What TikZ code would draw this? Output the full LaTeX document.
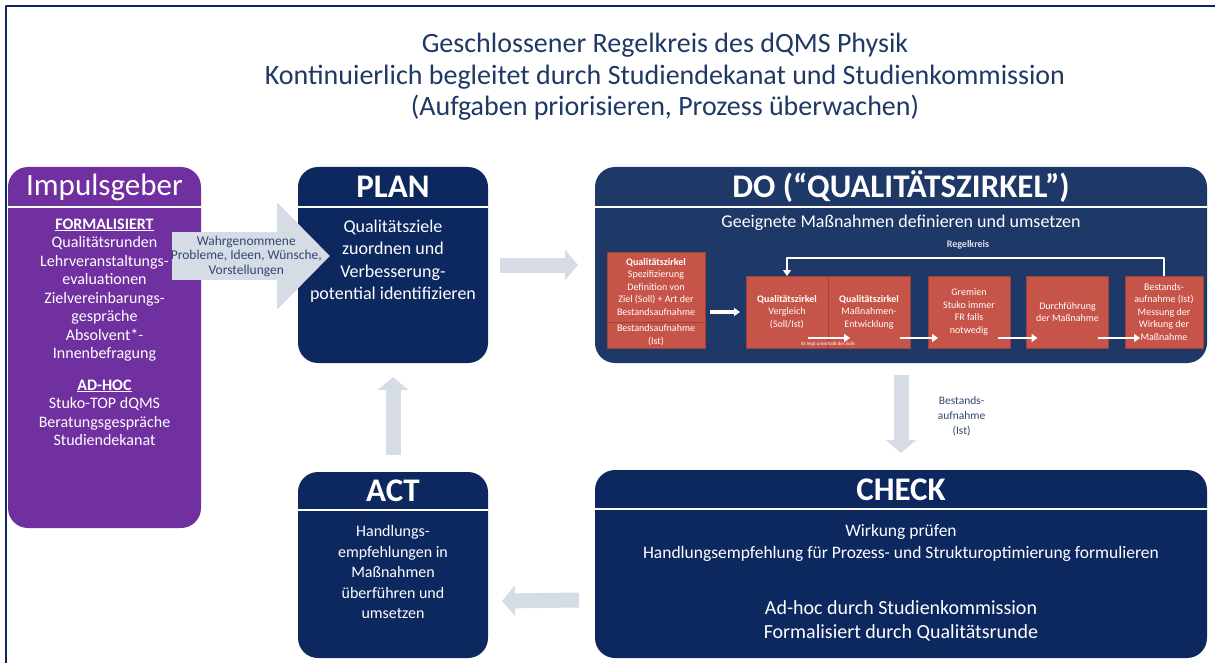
\documentclass[tikz,border=0pt]{standalone}
\usepackage{fontspec}
\setmainfont{Carlito}
\usetikzlibrary{arrows.meta,positioning}
\definecolor{titleblue}{RGB}{31,56,100}
\definecolor{navy}{RGB}{13,40,95}
\definecolor{doblue}{RGB}{30,56,104}
\definecolor{impulspurple}{RGB}{112,48,160}
\definecolor{arrowgray}{RGB}{214,220,229}
\definecolor{zirkelred}{RGB}{199,84,72}
\definecolor{labelblue}{RGB}{50,72,112}
\begin{document}
\begin{tikzpicture}[
	x=1pt, y=-1pt,
	line join=round,
	phase/.style={rounded corners=20pt, inner sep=0pt, outer sep=0pt},
	headtxt/.style={text=white, font=\fontsize{33}{35}\selectfont\bfseries},
	bodytxt/.style={text=white, align=center},
	rule/.style={white, line width=2pt},
	blockarrow/.style={arrowgray, line width=15pt, -{Triangle[length=13pt,width=30pt]}},
	zirkel/.style={fill=zirkelred, draw=zirkelred!80!black, line width=0.6pt, inner sep=0pt, outer sep=0pt, text=white, align=center, font=\fontsize{10}{12.5}\selectfont},
	flow/.style={white, line width=2.5pt, -{Triangle[length=6pt,width=8pt]}}
	]
	\useasboundingbox (0,0) rectangle (1215,663);
	\draw[navy, line width=2.5pt] (6,663) -- (6,6) -- (1215,6);
	\node[text=titleblue, align=center, font=\fontsize{28}{31.5}\selectfont] (title) at (665,77) {Geschlossener Regelkreis des dQMS Physik\\Kontinuierlich begleitet durch Studiendekanat und Studienkommission\\(Aufgaben priorisieren, Prozess überwachen)};

	\node[phase, fill=impulspurple, minimum width=193pt, minimum height=361pt] (impuls) at (104.5,347.5) {};
	\node[text=white, font=\fontsize{31}{33}\selectfont] (impulshead) at (104.5,187) {Impulsgeber};
	\draw[rule] ([yshift=-40pt]impuls.north west) -- ([yshift=-40pt]impuls.north east);
	\node[bodytxt, anchor=north, font=\fontsize{16}{18.5}\selectfont] (impulstxt) at (104.5,215) {\underline{\textbf{FORMALISIERT}}\\Qualitätsrunden\\Lehrveranstaltungs-\\evaluationen\\Zielvereinbarungs-\\gespräche\\Absolvent*-\\Innenbefragung\\[13pt]\underline{\textbf{AD-HOC}}\\Stuko-TOP dQMS\\Beratungsgespräche\\Studiendekanat};

	\node[phase, fill=navy, minimum width=190pt, minimum height=196pt] (plan) at (393,265) {};
	\node[headtxt] (planhead) at (393,187) {PLAN};
	\draw[rule] ([yshift=-40pt]plan.north west) -- ([yshift=-40pt]plan.north east);
	\node[bodytxt, anchor=north, font=\fontsize{18}{22.5}\selectfont] (plantxt) at (393,216) {Qualitätsziele\\zuordnen und\\Verbesserung-\\potential identifizieren};

	\coordinate (inflow) at (330,256);
	\draw[arrowgray, line width=48pt, -{Triangle[length=53pt,width=104pt]}] (172,256) -- (inflow) node[pos=0.47, text=labelblue, align=center, font=\fontsize{13.5}{14.5}\selectfont] (wahr) {Wahrgenommene\\Probleme, Ideen, Wünsche,\\Vorstellungen};

	\node[phase, fill=doblue, minimum width=612pt, minimum height=196pt] (do) at (901,265) {};
	\node[headtxt] (dohead) at (901,187) {DO (“QUALITÄTSZIRKEL”)};
	\draw[rule] ([yshift=-40pt]do.north west) -- ([yshift=-40pt]do.north east);
	\node[bodytxt, font=\fontsize{18}{20}\selectfont] (dotxt) at (901,223) {Geeignete Maßnahmen definieren und umsetzen};
	\node[text=white!85!doblue, font=\fontsize{10}{12}\selectfont\bfseries] (regel) at (968,245) {Regelkreis};

	\node[zirkel, minimum width=98pt, minimum height=70pt] (zk1) at (656,287) {\textbf{Qualitätszirkel}\\Spezifizierung\\Definition von\\Ziel (Soll) + Art der\\Bestandsaufnahme};
	\node[zirkel, minimum width=98pt, minimum height=26pt, below=0pt of zk1] (zk1b) {Bestandsaufnahme\\(Ist)};
	\node[zirkel, minimum width=82pt, minimum height=72pt] (zk2) at (787,312) {\textbf{Qualitätszirkel}\\Vergleich\\(Soll/Ist)};
	\node[zirkel, minimum width=82pt, minimum height=72pt, right=0pt of zk2] (zk3) {\textbf{Qualitätszirkel}\\Maßnahmen-\\Entwicklung};
	\node[zirkel, minimum width=82pt, minimum height=72pt] (zk4) at (969,312) {Gremien\\Stuko immer\\FR falls\\notwedig};
	\node[zirkel, minimum width=82pt, minimum height=72pt] (zk5) at (1067.5,312) {Durchführung\\der Maßnahme};
	\node[zirkel, minimum width=78pt, minimum height=72pt] (zk6) at (1164,312) {Bestands-\\aufnahme (Ist)\\Messung der\\Wirkung der\\Maßnahme};

	\draw[flow, line width=3.5pt, shorten <=5pt, shorten >=6pt] (zk1.east |- zk2.center) -- (zk2.west);
	\draw[flow, line width=1.5pt] ([shift={(-20pt,10pt)}]zk2.south east) -- ([shift={(22pt,10pt)}]zk3.south west);
	\node[text=white, font=\fontsize{5}{6}\selectfont] (istlabel) at ([yshift=4pt]zk2.south east) {Ist liegt unterhalb des Solls};
	\draw[flow, line width=2pt] ([shift={(-10pt,10pt)}]zk3.south east) -- ([shift={(10pt,10pt)}]zk4.south west);
	\draw[flow, line width=2pt] ([shift={(-12pt,10pt)}]zk4.south east) -- ([shift={(11pt,10pt)}]zk5.south west);
	\draw[flow, line width=2pt] ([shift={(-11pt,10pt)}]zk5.south east) -- ([shift={(15pt,10pt)}]zk6.south west);
	\draw[flow, line width=2pt] (zk6.north) -- ++(0,-18) -| (zk2.north);

	\node[phase, fill=navy, minimum width=612pt, minimum height=188pt] (check) at (901,564) {};
	\node[headtxt] (checkhead) at (901,490) {CHECK};
	\draw[rule] ([yshift=-39pt]check.north west) -- ([yshift=-39pt]check.north east);
	\node[bodytxt, font=\fontsize{17.5}{22}\selectfont] (checktxt) at (901,543) {Wirkung prüfen\\Handlungsempfehlung für Prozess- und Strukturoptimierung formulieren};
	\node[bodytxt, font=\fontsize{20}{24}\selectfont] (checkorg) at (901,621) {Ad-hoc durch Studienkommission\\Formalisiert durch Qualitätsrunde};

	\node[phase, fill=navy, minimum width=190pt, minimum height=186pt] (act) at (393,565) {};
	\node[headtxt] (acthead) at (393,491) {ACT};
	\draw[rule] ([yshift=-38pt]act.north west) -- ([yshift=-38pt]act.north east);
	\node[bodytxt, anchor=north, font=\fontsize{16}{20.5}\selectfont] (acttxt) at (393,522) {Handlungs-\\empfehlungen in\\Maßnahmen\\überführen und\\umsetzen};

	\draw[blockarrow] ([xshift=12pt]plan.east) -- ([xshift=-17pt]do.west);
	\draw[blockarrow, shorten <=12pt, shorten >=17pt] (do.south) -- (check.north) node[midway, right=26pt, text=labelblue, align=center, font=\fontsize{11.5}{15}\selectfont] (bestand) {Bestands-\\aufnahme\\(Ist)};
	\draw[blockarrow] ([shift={(-16pt,-36pt)}]check.west) -- ([shift={(14pt,-36pt)}]act.east);
	\draw[blockarrow] ([yshift=17pt]act.north) -- ([yshift=-14pt]plan.south);
\end{tikzpicture}
\end{document}
